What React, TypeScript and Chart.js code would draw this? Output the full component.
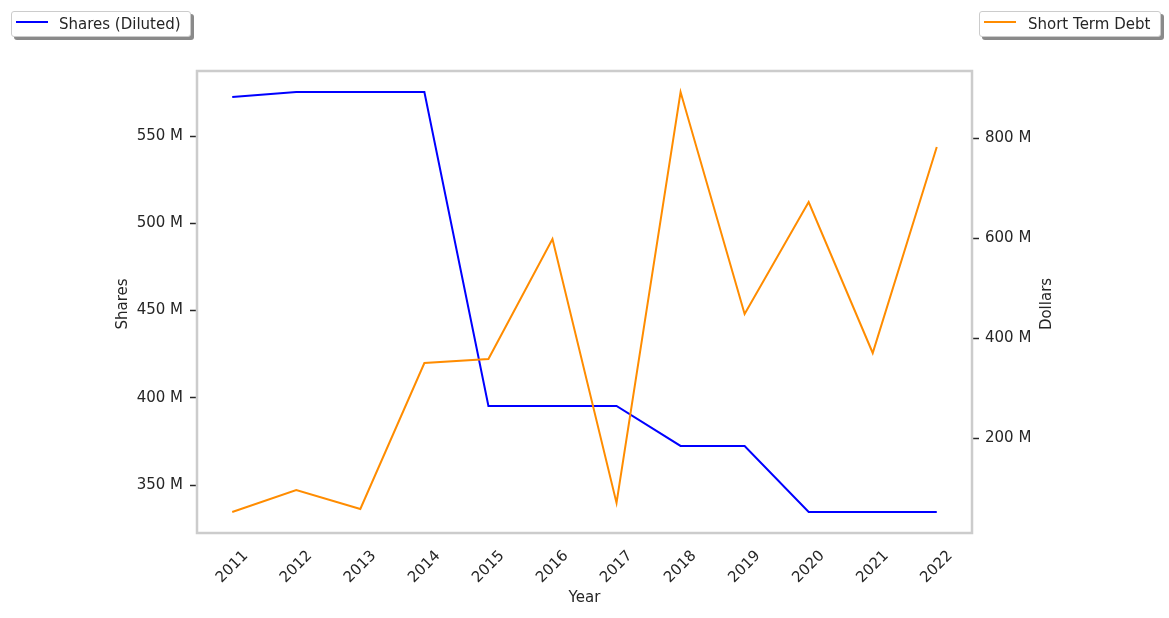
import React, { useEffect, useRef } from "react";
import { Chart, registerables } from "chart.js";

Chart.register(...registerables);

const years = [2011, 2012, 2013, 2014, 2015, 2016, 2017, 2018, 2019, 2020, 2021, 2022];
const sharesDiluted = [572.4, 575.3, 575.3, 575.3, 395.3, 395.3, 395.3, 372.4, 372.4, 334.5, 334.5, 334.5];
const shortTermDebt = [52, 96, 58, 350, 358, 598, 70, 892, 448, 672, 370, 782];
const sharesTicks = [350, 400, 450, 500, 550];
const dollarTicks = [200, 400, 600, 800];

const FONT = '"DejaVu Sans", sans-serif';
const TEXT = "#262626";

const overlayPlugin = {
  id: "overlay",
  beforeDatasetsDraw(chart: any) {
    const { ctx, chartArea } = chart;
    ctx.save();
    ctx.strokeStyle = "#cccccc";
    ctx.lineWidth = 2.5;
    ctx.strokeRect(chartArea.left, chartArea.top, chartArea.right - chartArea.left, chartArea.bottom - chartArea.top);
    ctx.restore();
  },
  afterDraw(chart: any) {
    const { ctx, chartArea } = chart;
    const xs = chart.scales.x;
    ctx.save();
    ctx.font = `15px ${FONT}`;
    ctx.fillStyle = TEXT;
    years.forEach((yr) => {
      const px = xs.getPixelForValue(yr);
      ctx.save();
      ctx.translate(px, 567);
      ctx.rotate(-Math.PI / 4);
      ctx.textAlign = "center";
      ctx.textBaseline = "middle";
      ctx.fillText(String(yr), 0, 0);
      ctx.restore();
    });
    ctx.textAlign = "center";
    ctx.textBaseline = "alphabetic";
    ctx.fillText("Year", (chartArea.left + chartArea.right) / 2, 602);
    ctx.save();
    ctx.translate(127, 304);
    ctx.rotate(-Math.PI / 2);
    ctx.fillText("Shares", 0, 0);
    ctx.restore();
    ctx.save();
    ctx.translate(1051, 304);
    ctx.rotate(-Math.PI / 2);
    ctx.fillText("Dollars", 0, 0);
    ctx.restore();
    ctx.restore();
  },
};

function LegendBox(props: { left: number; width: number; color: string; label: string; textLeft: number }) {
  return (
    <div
      style={{
        position: "absolute",
        left: props.left,
        top: 11,
        width: props.width,
        height: 26,
        boxSizing: "border-box",
        border: "1px solid #cccccc",
        borderRadius: 3,
        background: "#ffffff",
        boxShadow: "3px 3px 0 #8a8a8a",
        fontFamily: FONT,
        fontSize: 15,
        color: TEXT,
      }}
    >
      <div style={{ position: "absolute", left: 4, top: 9, width: 32, height: 2, background: props.color }} />
      <span style={{ position: "absolute", left: props.textLeft, top: -1, lineHeight: "26px", whiteSpace: "nowrap" }}>
        {props.label}
      </span>
    </div>
  );
}

export default function App() {
  const canvasRef = useRef<HTMLCanvasElement | null>(null);

  useEffect(() => {
    const canvas = canvasRef.current;
    if (!canvas) return;
    const chart = new Chart(canvas, {
      type: "line",
      data: {
        datasets: [
          {
            label: "Short Term Debt",
            data: years.map((yr, i) => ({ x: yr, y: shortTermDebt[i] })),
            borderColor: "#ff8c00",
            backgroundColor: "#ff8c00",
            borderWidth: 2,
            pointRadius: 0,
            tension: 0,
            yAxisID: "y1",
            order: 0,
          },
          {
            label: "Shares (Diluted)",
            data: years.map((yr, i) => ({ x: yr, y: sharesDiluted[i] })),
            borderColor: "#0000ff",
            backgroundColor: "#0000ff",
            borderWidth: 2,
            pointRadius: 0,
            tension: 0,
            yAxisID: "y",
            order: 1,
          },
        ],
      },
      options: {
        responsive: false,
        animation: false,
        devicePixelRatio: 1,
        layout: { padding: { top: 71, bottom: 85, left: 0, right: 0 } },
        plugins: { legend: { display: false }, tooltip: { enabled: false } },
        scales: {
          x: {
            type: "linear",
            display: false,
            min: 2010.45,
            max: 2022.55,
          },
          y: {
            type: "linear",
            position: "left",
            min: 322.5,
            max: 587.3,
            afterFit: (s: any) => {
              s.width = 197;
            },
            afterBuildTicks: (s: any) => {
              s.ticks = sharesTicks.map((v) => ({ value: v }));
            },
            border: { display: false },
            grid: { display: true, drawOnChartArea: false, drawTicks: true, tickLength: 7, tickColor: TEXT, tickWidth: 1.5 },
            ticks: {
              padding: 7,
              color: TEXT,
              font: { family: FONT, size: 15 },
              callback: (v: any) => `${v} M`,
            },
          },
          y1: {
            type: "linear",
            position: "right",
            min: 10,
            max: 934,
            afterFit: (s: any) => {
              s.width = 197;
            },
            afterBuildTicks: (s: any) => {
              s.ticks = dollarTicks.map((v) => ({ value: v }));
            },
            border: { display: false },
            grid: { display: true, drawOnChartArea: false, drawTicks: true, tickLength: 7, tickColor: TEXT, tickWidth: 1.5 },
            ticks: {
              padding: 6,
              color: TEXT,
              font: { family: FONT, size: 15 },
              callback: (v: any) => `${v} M`,
            },
          },
        },
      },
      plugins: [overlayPlugin],
    });
    return () => chart.destroy();
  }, []);

  return (
    <div style={{ position: "fixed", left: 0, top: 0, width: 1169, height: 618, background: "#ffffff" }}>
      <canvas ref={canvasRef} width={1169} height={618} style={{ position: "absolute", left: 0, top: 0 }} />
      <LegendBox left={11} width={180} color="#0000ff" label="Shares (Diluted)" textLeft={47} />
      <LegendBox left={979} width={182} color="#ff8c00" label="Short Term Debt" textLeft={48} />
    </div>
  );
}
